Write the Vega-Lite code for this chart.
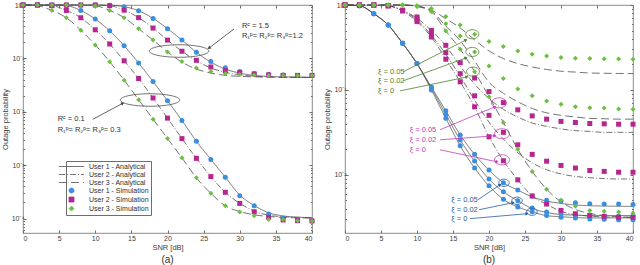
{
"$schema": "https://vega.github.io/schema/vega-lite/v6.json",
"background": "white",
"padding": {"left": 0, "top": 0, "right": 0, "bottom": 0},
"spacing": 8,
"config": {
  "font": "Liberation Sans",
  "view": {"stroke": "#6e6e6e", "strokeWidth": 0.8},
  "axis": {"grid": false, "domain": false, "labelFontSize": 7, "labelColor": "#404040", "titleFontSize": 7.5, "titleColor": "#404040", "titleFontWeight": "normal", "tickColor": "#6e6e6e", "labelFont": "Liberation Sans", "titleFont": "Liberation Sans"},
  "title": {"font": "Liberation Sans", "fontWeight": "normal", "fontSize": 10, "color": "#303030"}
},
"datasets": {
  "labs": [
    {"u": "1", "la": "User 1 - Analytical", "ls": "User 1 - Simulation"},
    {"u": "2", "la": "User 2 - Analytical", "ls": "User 2 - Simulation"},
    {"u": "3", "la": "User 3 - Analytical", "ls": "User 3 - Simulation"}
  ],
  "A": [
    {"g":"lo","u":"1","x":0,"s":1,"a":1},
    {"g":"lo","u":"1","x":2,"s":1,"a":1},
    {"g":"lo","u":"1","x":4,"s":1,"a":1},
    {"g":"lo","u":"1","x":6,"s":0.97,"a":0.97},
    {"g":"lo","u":"1","x":8,"s":0.79,"a":0.79},
    {"g":"lo","u":"1","x":10,"s":0.544,"a":0.544},
    {"g":"lo","u":"1","x":12,"s":0.328,"a":0.328},
    {"g":"lo","u":"1","x":14,"s":0.173,"a":0.173},
    {"g":"lo","u":"1","x":16,"s":0.0817,"a":0.0817},
    {"g":"lo","u":"1","x":18,"s":0.0368,"a":0.0368},
    {"g":"lo","u":"1","x":20,"s":0.0161,"a":0.0161},
    {"g":"lo","u":"1","x":22,"s":0.00686,"a":0.00686},
    {"g":"lo","u":"1","x":24,"s":0.0028,"a":0.0028},
    {"g":"lo","u":"1","x":26,"s":0.00128,"a":0.00128},
    {"g":"lo","u":"1","x":28,"s":0.000594,"a":0.000594},
    {"g":"lo","u":"1","x":30,"s":0.000268,"a":0.000275},
    {"g":"lo","u":"1","x":32,"s":0.000173,"a":0.000175},
    {"g":"lo","u":"1","x":34,"s":0.000121,"a":0.000128},
    {"g":"lo","u":"1","x":36,"s":0.000101,"a":0.000112},
    {"g":"lo","u":"1","x":38,"s":0.0000944,"a":0.000106},
    {"g":"lo","u":"1","x":40,"s":0.0000903,"a":0.000104},
    {"g":"lo","u":"2","x":0,"s":1,"a":1},
    {"g":"lo","u":"2","x":2,"s":1,"a":1},
    {"g":"lo","u":"2","x":4,"s":0.97,"a":0.97},
    {"g":"lo","u":"2","x":6,"s":0.79,"a":0.79},
    {"g":"lo","u":"2","x":8,"s":0.577,"a":0.577},
    {"g":"lo","u":"2","x":10,"s":0.343,"a":0.343},
    {"g":"lo","u":"2","x":12,"s":0.186,"a":0.186},
    {"g":"lo","u":"2","x":14,"s":0.09,"a":0.09},
    {"g":"lo","u":"2","x":16,"s":0.042,"a":0.042},
    {"g":"lo","u":"2","x":18,"s":0.0181,"a":0.0181},
    {"g":"lo","u":"2","x":20,"s":0.0076,"a":0.0076},
    {"g":"lo","u":"2","x":22,"s":0.00314,"a":0.00314},
    {"g":"lo","u":"2","x":24,"s":0.00134,"a":0.00134},
    {"g":"lo","u":"2","x":26,"s":0.00061,"a":0.00061},
    {"g":"lo","u":"2","x":28,"s":0.00031,"a":0.00031},
    {"g":"lo","u":"2","x":30,"s":0.000192,"a":0.000192},
    {"g":"lo","u":"2","x":32,"s":0.000134,"a":0.000138},
    {"g":"lo","u":"2","x":34,"s":0.000105,"a":0.000115},
    {"g":"lo","u":"2","x":36,"s":0.000094,"a":0.000108},
    {"g":"lo","u":"2","x":38,"s":0.000091,"a":0.000105},
    {"g":"lo","u":"2","x":40,"s":0.00009,"a":0.000103},
    {"g":"lo","u":"3","x":0,"s":1,"a":1},
    {"g":"lo","u":"3","x":2,"s":0.97,"a":0.97},
    {"g":"lo","u":"3","x":4,"s":0.79,"a":0.79},
    {"g":"lo","u":"3","x":6,"s":0.577,"a":0.577},
    {"g":"lo","u":"3","x":8,"s":0.337,"a":0.337},
    {"g":"lo","u":"3","x":10,"s":0.179,"a":0.179},
    {"g":"lo","u":"3","x":12,"s":0.0865,"a":0.0865},
    {"g":"lo","u":"3","x":14,"s":0.039,"a":0.039},
    {"g":"lo","u":"3","x":16,"s":0.0168,"a":0.0168},
    {"g":"lo","u":"3","x":18,"s":0.00727,"a":0.00727},
    {"g":"lo","u":"3","x":20,"s":0.00314,"a":0.00314},
    {"g":"lo","u":"3","x":22,"s":0.00137,"a":0.00137},
    {"g":"lo","u":"3","x":24,"s":0.000577,"a":0.000577},
    {"g":"lo","u":"3","x":26,"s":0.000296,"a":0.000296},
    {"g":"lo","u":"3","x":28,"s":0.000173,"a":0.000173},
    {"g":"lo","u":"3","x":30,"s":0.000132,"a":0.000135},
    {"g":"lo","u":"3","x":32,"s":0.000112,"a":0.000117},
    {"g":"lo","u":"3","x":34,"s":0.000096,"a":0.000109},
    {"g":"lo","u":"3","x":36,"s":0.000096,"a":0.000105},
    {"g":"lo","u":"3","x":38,"s":0.000091,"a":0.000103},
    {"g":"lo","u":"3","x":40,"s":0.00009,"a":0.000102},
    {"g":"hi","u":"1","x":0,"s":1,"a":1},
    {"g":"hi","u":"1","x":2,"s":1,"a":1},
    {"g":"hi","u":"1","x":4,"s":1,"a":1},
    {"g":"hi","u":"1","x":6,"s":1,"a":1},
    {"g":"hi","u":"1","x":8,"s":1,"a":1},
    {"g":"hi","u":"1","x":10,"s":1,"a":1},
    {"g":"hi","u":"1","x":12,"s":0.99,"a":0.99},
    {"g":"hi","u":"1","x":14,"s":0.93,"a":0.93},
    {"g":"hi","u":"1","x":16,"s":0.78,"a":0.78},
    {"g":"hi","u":"1","x":18,"s":0.56,"a":0.56},
    {"g":"hi","u":"1","x":20,"s":0.36,"a":0.36},
    {"g":"hi","u":"1","x":22,"s":0.22,"a":0.22},
    {"g":"hi","u":"1","x":24,"s":0.13,"a":0.13},
    {"g":"hi","u":"1","x":26,"s":0.087,"a":0.085},
    {"g":"hi","u":"1","x":28,"s":0.067,"a":0.063},
    {"g":"hi","u":"1","x":30,"s":0.057,"a":0.053},
    {"g":"hi","u":"1","x":32,"s":0.052,"a":0.048},
    {"g":"hi","u":"1","x":34,"s":0.05,"a":0.046},
    {"g":"hi","u":"1","x":36,"s":0.049,"a":0.045},
    {"g":"hi","u":"1","x":38,"s":0.048,"a":0.0445},
    {"g":"hi","u":"1","x":40,"s":0.048,"a":0.044},
    {"g":"hi","u":"2","x":0,"s":1,"a":1},
    {"g":"hi","u":"2","x":2,"s":1,"a":1},
    {"g":"hi","u":"2","x":4,"s":1,"a":1},
    {"g":"hi","u":"2","x":6,"s":1,"a":1},
    {"g":"hi","u":"2","x":8,"s":1,"a":1},
    {"g":"hi","u":"2","x":10,"s":1,"a":1},
    {"g":"hi","u":"2","x":12,"s":0.97,"a":0.97},
    {"g":"hi","u":"2","x":14,"s":0.8,"a":0.8},
    {"g":"hi","u":"2","x":16,"s":0.58,"a":0.58},
    {"g":"hi","u":"2","x":18,"s":0.37,"a":0.37},
    {"g":"hi","u":"2","x":20,"s":0.22,"a":0.22},
    {"g":"hi","u":"2","x":22,"s":0.136,"a":0.136},
    {"g":"hi","u":"2","x":24,"s":0.092,"a":0.09},
    {"g":"hi","u":"2","x":26,"s":0.069,"a":0.066},
    {"g":"hi","u":"2","x":28,"s":0.059,"a":0.055},
    {"g":"hi","u":"2","x":30,"s":0.054,"a":0.049},
    {"g":"hi","u":"2","x":32,"s":0.051,"a":0.0465},
    {"g":"hi","u":"2","x":34,"s":0.049,"a":0.0452},
    {"g":"hi","u":"2","x":36,"s":0.048,"a":0.0446},
    {"g":"hi","u":"2","x":38,"s":0.048,"a":0.0442},
    {"g":"hi","u":"2","x":40,"s":0.048,"a":0.044},
    {"g":"hi","u":"3","x":0,"s":1,"a":1},
    {"g":"hi","u":"3","x":2,"s":1,"a":1},
    {"g":"hi","u":"3","x":4,"s":1,"a":1},
    {"g":"hi","u":"3","x":6,"s":1,"a":1},
    {"g":"hi","u":"3","x":8,"s":1,"a":1},
    {"g":"hi","u":"3","x":10,"s":0.97,"a":0.97},
    {"g":"hi","u":"3","x":12,"s":0.79,"a":0.79},
    {"g":"hi","u":"3","x":14,"s":0.58,"a":0.58},
    {"g":"hi","u":"3","x":16,"s":0.36,"a":0.36},
    {"g":"hi","u":"3","x":18,"s":0.22,"a":0.22},
    {"g":"hi","u":"3","x":20,"s":0.132,"a":0.132},
    {"g":"hi","u":"3","x":22,"s":0.087,"a":0.085},
    {"g":"hi","u":"3","x":24,"s":0.066,"a":0.063},
    {"g":"hi","u":"3","x":26,"s":0.057,"a":0.053},
    {"g":"hi","u":"3","x":28,"s":0.052,"a":0.048},
    {"g":"hi","u":"3","x":30,"s":0.05,"a":0.046},
    {"g":"hi","u":"3","x":32,"s":0.049,"a":0.045},
    {"g":"hi","u":"3","x":34,"s":0.048,"a":0.0445},
    {"g":"hi","u":"3","x":36,"s":0.048,"a":0.044},
    {"g":"hi","u":"3","x":38,"s":0.048,"a":0.044},
    {"g":"hi","u":"3","x":40,"s":0.048,"a":0.044}
  ],
  "B": [
    {"g":"0.05","u":"1","x":0,"s":1,"a":1},
    {"g":"0.05","u":"1","x":2,"s":0.98,"a":0.98},
    {"g":"0.05","u":"1","x":4,"s":0.79,"a":0.79},
    {"g":"0.05","u":"1","x":6,"s":0.58,"a":0.58},
    {"g":"0.05","u":"1","x":8,"s":0.354,"a":0.354},
    {"g":"0.05","u":"1","x":10,"s":0.204,"a":0.204},
    {"g":"0.05","u":"1","x":12,"s":0.108,"a":0.108},
    {"g":"0.05","u":"1","x":14,"s":0.0566,"a":0.0566},
    {"g":"0.05","u":"1","x":16,"s":0.0295,"a":0.0295},
    {"g":"0.05","u":"1","x":18,"s":0.0174,"a":0.0174},
    {"g":"0.05","u":"1","x":20,"s":0.01135,"a":0.01135},
    {"g":"0.05","u":"1","x":22,"s":0.00805,"a":0.00805},
    {"g":"0.05","u":"1","x":24,"s":0.0066,"a":0.0066},
    {"g":"0.05","u":"1","x":26,"s":0.00562,"a":0.0055},
    {"g":"0.05","u":"1","x":28,"s":0.00501,"a":0.0049},
    {"g":"0.05","u":"1","x":30,"s":0.0049,"a":0.0046},
    {"g":"0.05","u":"1","x":32,"s":0.00468,"a":0.0044},
    {"g":"0.05","u":"1","x":34,"s":0.00457,"a":0.00432},
    {"g":"0.05","u":"1","x":36,"s":0.00452,"a":0.00428},
    {"g":"0.05","u":"1","x":38,"s":0.00452,"a":0.00425},
    {"g":"0.05","u":"1","x":40,"s":0.00447,"a":0.00424},
    {"g":"0.02","u":"1","x":0,"s":1,"a":1},
    {"g":"0.02","u":"1","x":2,"s":0.98,"a":0.98},
    {"g":"0.02","u":"1","x":4,"s":0.79,"a":0.79},
    {"g":"0.02","u":"1","x":6,"s":0.58,"a":0.58},
    {"g":"0.02","u":"1","x":8,"s":0.354,"a":0.354},
    {"g":"0.02","u":"1","x":10,"s":0.204,"a":0.204},
    {"g":"0.02","u":"1","x":12,"s":0.104,"a":0.104},
    {"g":"0.02","u":"1","x":14,"s":0.0517,"a":0.0517},
    {"g":"0.02","u":"1","x":16,"s":0.0257,"a":0.0257},
    {"g":"0.02","u":"1","x":18,"s":0.0145,"a":0.0145},
    {"g":"0.02","u":"1","x":20,"s":0.0089,"a":0.0089},
    {"g":"0.02","u":"1","x":22,"s":0.0063,"a":0.0063},
    {"g":"0.02","u":"1","x":24,"s":0.00494,"a":0.00494},
    {"g":"0.02","u":"1","x":26,"s":0.00407,"a":0.004},
    {"g":"0.02","u":"1","x":28,"s":0.00363,"a":0.0036},
    {"g":"0.02","u":"1","x":30,"s":0.00347,"a":0.0034},
    {"g":"0.02","u":"1","x":32,"s":0.00335,"a":0.00335},
    {"g":"0.02","u":"1","x":34,"s":0.00331,"a":0.0033},
    {"g":"0.02","u":"1","x":36,"s":0.00324,"a":0.0033},
    {"g":"0.02","u":"1","x":38,"s":0.00324,"a":0.0033},
    {"g":"0.02","u":"1","x":40,"s":0.00324,"a":0.0033},
    {"g":"0","u":"1","x":0,"s":1,"a":1},
    {"g":"0","u":"1","x":2,"s":0.98,"a":0.98},
    {"g":"0","u":"1","x":4,"s":0.79,"a":0.79},
    {"g":"0","u":"1","x":6,"s":0.58,"a":0.58},
    {"g":"0","u":"1","x":8,"s":0.354,"a":0.354},
    {"g":"0","u":"1","x":10,"s":0.204,"a":0.204},
    {"g":"0","u":"1","x":12,"s":0.1,"a":0.1},
    {"g":"0","u":"1","x":14,"s":0.0464,"a":0.0464},
    {"g":"0","u":"1","x":16,"s":0.0219,"a":0.0219},
    {"g":"0","u":"1","x":18,"s":0.012,"a":0.012},
    {"g":"0","u":"1","x":20,"s":0.0074,"a":0.0074},
    {"g":"0","u":"1","x":22,"s":0.00513,"a":0.00513},
    {"g":"0","u":"1","x":24,"s":0.00417,"a":0.00417},
    {"g":"0","u":"1","x":26,"s":0.00367,"a":0.00365},
    {"g":"0","u":"1","x":28,"s":0.00331,"a":0.0033},
    {"g":"0","u":"1","x":30,"s":0.00316,"a":0.0032},
    {"g":"0","u":"1","x":32,"s":0.00309,"a":0.00313},
    {"g":"0","u":"1","x":34,"s":0.00302,"a":0.0031},
    {"g":"0","u":"1","x":36,"s":0.00299,"a":0.0031},
    {"g":"0","u":"1","x":38,"s":0.00295,"a":0.0031},
    {"g":"0","u":"1","x":40,"s":0.00295,"a":0.0031},
    {"g":"0.05","u":"2","x":0,"s":1,"a":1},
    {"g":"0.05","u":"2","x":2,"s":1,"a":1},
    {"g":"0.05","u":"2","x":4,"s":1,"a":1},
    {"g":"0.05","u":"2","x":6,"s":0.98,"a":0.98},
    {"g":"0.05","u":"2","x":8,"s":0.87,"a":0.86},
    {"g":"0.05","u":"2","x":10,"s":0.723,"a":0.7},
    {"g":"0.05","u":"2","x":12,"s":0.503,"a":0.5},
    {"g":"0.05","u":"2","x":14,"s":0.335,"a":0.33},
    {"g":"0.05","u":"2","x":16,"s":0.209,"a":0.19},
    {"g":"0.05","u":"2","x":18,"s":0.138,"a":0.117},
    {"g":"0.05","u":"2","x":20,"s":0.0955,"a":0.079},
    {"g":"0.05","u":"2","x":22,"s":0.0708,"a":0.0589},
    {"g":"0.05","u":"2","x":24,"s":0.0582,"a":0.0479},
    {"g":"0.05","u":"2","x":26,"s":0.0494,"a":0.0407},
    {"g":"0.05","u":"2","x":28,"s":0.0452,"a":0.0372},
    {"g":"0.05","u":"2","x":30,"s":0.0425,"a":0.0347},
    {"g":"0.05","u":"2","x":32,"s":0.0413,"a":0.0331},
    {"g":"0.05","u":"2","x":34,"s":0.0402,"a":0.0324},
    {"g":"0.05","u":"2","x":36,"s":0.0398,"a":0.0316},
    {"g":"0.05","u":"2","x":38,"s":0.0394,"a":0.0316},
    {"g":"0.05","u":"2","x":40,"s":0.0394,"a":0.0316},
    {"g":"0.02","u":"2","x":0,"s":1,"a":1},
    {"g":"0.02","u":"2","x":2,"s":1,"a":1},
    {"g":"0.02","u":"2","x":4,"s":1,"a":1},
    {"g":"0.02","u":"2","x":6,"s":0.98,"a":0.98},
    {"g":"0.02","u":"2","x":8,"s":0.86,"a":0.86},
    {"g":"0.02","u":"2","x":10,"s":0.678,"a":0.67},
    {"g":"0.02","u":"2","x":12,"s":0.452,"a":0.44},
    {"g":"0.02","u":"2","x":14,"s":0.275,"a":0.263},
    {"g":"0.02","u":"2","x":16,"s":0.155,"a":0.1445},
    {"g":"0.02","u":"2","x":18,"s":0.0851,"a":0.0759},
    {"g":"0.02","u":"2","x":20,"s":0.0501,"a":0.0417},
    {"g":"0.02","u":"2","x":22,"s":0.0316,"a":0.0263},
    {"g":"0.02","u":"2","x":24,"s":0.02254,"a":0.0182},
    {"g":"0.02","u":"2","x":26,"s":0.01738,"a":0.0138},
    {"g":"0.02","u":"2","x":28,"s":0.01445,"a":0.01148},
    {"g":"0.02","u":"2","x":30,"s":0.01288,"a":0.01023},
    {"g":"0.02","u":"2","x":32,"s":0.012,"a":0.00955},
    {"g":"0.02","u":"2","x":34,"s":0.01122,"a":0.00923},
    {"g":"0.02","u":"2","x":36,"s":0.01096,"a":0.00902},
    {"g":"0.02","u":"2","x":38,"s":0.01072,"a":0.00891},
    {"g":"0.02","u":"2","x":40,"s":0.01072,"a":0.00891},
    {"g":"0","u":"2","x":0,"s":1,"a":1},
    {"g":"0","u":"2","x":2,"s":1,"a":1},
    {"g":"0","u":"2","x":4,"s":1,"a":1},
    {"g":"0","u":"2","x":6,"s":0.98,"a":0.98},
    {"g":"0","u":"2","x":8,"s":0.85,"a":0.85},
    {"g":"0","u":"2","x":10,"s":0.637,"a":0.637},
    {"g":"0","u":"2","x":12,"s":0.42,"a":0.42},
    {"g":"0","u":"2","x":14,"s":0.23,"a":0.23},
    {"g":"0","u":"2","x":16,"s":0.1245,"a":0.1245},
    {"g":"0","u":"2","x":18,"s":0.0631,"a":0.0631},
    {"g":"0","u":"2","x":20,"s":0.028,"a":0.028},
    {"g":"0","u":"2","x":22,"s":0.01462,"a":0.01462},
    {"g":"0","u":"2","x":24,"s":0.00871,"a":0.00871},
    {"g":"0","u":"2","x":26,"s":0.00562,"a":0.00562},
    {"g":"0","u":"2","x":28,"s":0.00452,"a":0.0045},
    {"g":"0","u":"2","x":30,"s":0.0038,"a":0.0037},
    {"g":"0","u":"2","x":32,"s":0.00347,"a":0.0034},
    {"g":"0","u":"2","x":34,"s":0.00331,"a":0.00325},
    {"g":"0","u":"2","x":36,"s":0.00324,"a":0.00318},
    {"g":"0","u":"2","x":38,"s":0.00316,"a":0.00315},
    {"g":"0","u":"2","x":40,"s":0.00316,"a":0.00313},
    {"g":"0.05","u":"3","x":0,"s":1,"a":1},
    {"g":"0.05","u":"3","x":2,"s":1,"a":1},
    {"g":"0.05","u":"3","x":4,"s":1,"a":1},
    {"g":"0.05","u":"3","x":6,"s":1,"a":1},
    {"g":"0.05","u":"3","x":8,"s":1,"a":1},
    {"g":"0.05","u":"3","x":10,"s":0.98,"a":0.97},
    {"g":"0.05","u":"3","x":12,"s":0.91,"a":0.87},
    {"g":"0.05","u":"3","x":14,"s":0.73,"a":0.69},
    {"g":"0.05","u":"3","x":16,"s":0.582,"a":0.537},
    {"g":"0.05","u":"3","x":18,"s":0.452,"a":0.389},
    {"g":"0.05","u":"3","x":20,"s":0.371,"a":0.288},
    {"g":"0.05","u":"3","x":22,"s":0.3236,"a":0.234},
    {"g":"0.05","u":"3","x":24,"s":0.288,"a":0.204},
    {"g":"0.05","u":"3","x":26,"s":0.263,"a":0.186},
    {"g":"0.05","u":"3","x":28,"s":0.251,"a":0.174},
    {"g":"0.05","u":"3","x":30,"s":0.24,"a":0.166},
    {"g":"0.05","u":"3","x":32,"s":0.236,"a":0.162},
    {"g":"0.05","u":"3","x":34,"s":0.234,"a":0.158},
    {"g":"0.05","u":"3","x":36,"s":0.232,"a":0.157},
    {"g":"0.05","u":"3","x":38,"s":0.231,"a":0.156},
    {"g":"0.05","u":"3","x":40,"s":0.2296,"a":0.1556},
    {"g":"0.02","u":"3","x":0,"s":1,"a":1},
    {"g":"0.02","u":"3","x":2,"s":1,"a":1},
    {"g":"0.02","u":"3","x":4,"s":1,"a":1},
    {"g":"0.02","u":"3","x":6,"s":1,"a":1},
    {"g":"0.02","u":"3","x":8,"s":1,"a":1},
    {"g":"0.02","u":"3","x":10,"s":0.97,"a":0.97},
    {"g":"0.02","u":"3","x":12,"s":0.87,"a":0.85},
    {"g":"0.02","u":"3","x":14,"s":0.603,"a":0.562},
    {"g":"0.02","u":"3","x":16,"s":0.431,"a":0.38},
    {"g":"0.02","u":"3","x":18,"s":0.28,"a":0.219},
    {"g":"0.02","u":"3","x":20,"s":0.1905,"a":0.123},
    {"g":"0.02","u":"3","x":22,"s":0.1358,"a":0.0912},
    {"g":"0.02","u":"3","x":24,"s":0.1023,"a":0.0724},
    {"g":"0.02","u":"3","x":26,"s":0.0851,"a":0.0603},
    {"g":"0.02","u":"3","x":28,"s":0.0741,"a":0.0537},
    {"g":"0.02","u":"3","x":30,"s":0.0676,"a":0.0501},
    {"g":"0.02","u":"3","x":32,"s":0.0631,"a":0.0479},
    {"g":"0.02","u":"3","x":34,"s":0.0617,"a":0.0462},
    {"g":"0.02","u":"3","x":36,"s":0.061,"a":0.0457},
    {"g":"0.02","u":"3","x":38,"s":0.0596,"a":0.0452},
    {"g":"0.02","u":"3","x":40,"s":0.0593,"a":0.0452},
    {"g":"0","u":"3","x":0,"s":1,"a":1},
    {"g":"0","u":"3","x":2,"s":1,"a":1},
    {"g":"0","u":"3","x":4,"s":1,"a":1},
    {"g":"0","u":"3","x":6,"s":1,"a":1},
    {"g":"0","u":"3","x":8,"s":1,"a":1},
    {"g":"0","u":"3","x":10,"s":0.96,"a":0.96},
    {"g":"0","u":"3","x":12,"s":0.83,"a":0.83},
    {"g":"0","u":"3","x":14,"s":0.494,"a":0.494},
    {"g":"0","u":"3","x":16,"s":0.302,"a":0.302},
    {"g":"0","u":"3","x":18,"s":0.164,"a":0.164},
    {"g":"0","u":"3","x":20,"s":0.0832,"a":0.0832},
    {"g":"0","u":"3","x":22,"s":0.0413,"a":0.0413},
    {"g":"0","u":"3","x":24,"s":0.01995,"a":0.01995},
    {"g":"0","u":"3","x":26,"s":0.01096,"a":0.01096},
    {"g":"0","u":"3","x":28,"s":0.00676,"a":0.00676},
    {"g":"0","u":"3","x":30,"s":0.00501,"a":0.0048},
    {"g":"0","u":"3","x":32,"s":0.00427,"a":0.0039},
    {"g":"0","u":"3","x":34,"s":0.0038,"a":0.0035},
    {"g":"0","u":"3","x":36,"s":0.00372,"a":0.0033},
    {"g":"0","u":"3","x":38,"s":0.00363,"a":0.0032},
    {"g":"0","u":"3","x":40,"s":0.00355,"a":0.00316}
  ],
  "annAe": [{"x": 21.6, "y": 0.1374}, {"x": 17.58, "y": 0.0166}],
  "annAr": [
    {"x": 29.2, "y": 0.355, "x2": 25.74, "y2": 0.156, "ang": 233},
    {"x": 9.65, "y": 0.00722, "x2": 13.8, "y2": 0.01439, "ang": 62}
  ],
  "annAt": [
    {"x": 30.3, "y": 0.404, "t": "Rᶜ = 1.5"},
    {"x": 30.3, "y": 0.2625, "t": "R₁ᵖ= R₂ᵖ= R₃ᵖ=1.2"},
    {"x": 4.8, "y": 0.00722, "t": "Rᶜ = 0.1"},
    {"x": 4.8, "y": 0.00449, "t": "R₁ᵖ= R₂ᵖ= R₃ᵖ= 0.3"}
  ],
  "annBe": [
    {"k": "3", "x": 17.68, "y": 0.452}, {"k": "3", "x": 17.68, "y": 0.28}, {"k": "3", "x": 17.78, "y": 0.164},
    {"k": "2", "x": 21.39, "y": 0.0703}, {"k": "2", "x": 21.81, "y": 0.0304}, {"k": "2", "x": 21.81, "y": 0.015},
    {"k": "1", "x": 22.08, "y": 0.00805}, {"k": "1", "x": 23.89, "y": 0.00494}, {"k": "1", "x": 25.97, "y": 0.00367}
  ],
  "annBr": [
    {"k": "3", "x": 8.06, "y": 0.163, "x2": 16.8, "y2": 0.387, "ang": 63},
    {"k": "3", "x": 8.06, "y": 0.1276, "x2": 16.8, "y2": 0.238, "ang": 70},
    {"k": "3", "x": 7.64, "y": 0.0973, "x2": 16.94, "y2": 0.142, "ang": 78},
    {"k": "2", "x": 13.19, "y": 0.0339, "x2": 20.83, "y2": 0.0631, "ang": 67},
    {"k": "2", "x": 13.19, "y": 0.0258, "x2": 20.83, "y2": 0.0288, "ang": 86},
    {"k": "2", "x": 13.19, "y": 0.01968, "x2": 21.11, "y2": 0.01422, "ang": 102},
    {"k": "1", "x": 18.47, "y": 0.00508, "x2": 21.53, "y2": 0.00762, "ang": 56},
    {"k": "1", "x": 18.61, "y": 0.00387, "x2": 23.33, "y2": 0.00469, "ang": 78},
    {"k": "1", "x": 17.36, "y": 0.00304, "x2": 25.28, "y2": 0.003476, "ang": 85}
  ],
  "annBt": [
    {"k": "3", "x": 4.58, "y": 0.163, "t": "ξ = 0.05"},
    {"k": "3", "x": 4.58, "y": 0.1276, "t": "ξ = 0.02"},
    {"k": "3", "x": 4.58, "y": 0.0973, "t": "ξ = 0"},
    {"k": "2", "x": 8.99, "y": 0.0339, "t": "ξ = 0.05"},
    {"k": "2", "x": 8.99, "y": 0.0258, "t": "ξ = 0.02"},
    {"k": "2", "x": 8.99, "y": 0.01968, "t": "ξ = 0"},
    {"k": "1", "x": 14.76, "y": 0.00508, "t": "ξ = 0.05"},
    {"k": "1", "x": 14.76, "y": 0.00387, "t": "ξ = 0.02"},
    {"k": "1", "x": 14.76, "y": 0.00304, "t": "ξ = 0"}
  ]
},
"hconcat": [
  {
    "width": 289, "height": 228,
    "title": {"text": "(a)", "orient": "bottom", "offset": 4},
    "resolve": {"axis": {"x": "independent", "y": "independent"}},
    "layer": [
      {
        "data": {"name": "A"},
        "transform": [{"lookup": "u", "from": {"data": {"name": "labs"}, "key": "u", "fields": ["la", "ls"]}}],
        "mark": {"type": "line", "strokeWidth": 0.8, "interpolate": "monotone"},
        "encoding": {
          "x": {"field": "x", "type": "quantitative", "scale": {"domain": [0, 40], "nice": false},
                "axis": {"title": "SNR [dB]", "values": [0,5,10,15,20,25,30,35,40], "tickSize": -3, "labelPadding": 4, "titlePadding": 2}},
          "y": {"field": "a", "type": "quantitative", "scale": {"type": "log", "domain": [0.0000535, 1], "nice": false},
                "axis": {"title": "Outage probability", "values": [0.00006,0.00007,0.00008,0.00009,0.0001,0.0002,0.0003,0.0004,0.0005,0.0006,0.0007,0.0008,0.0009,0.001,0.002,0.003,0.004,0.005,0.006,0.007,0.008,0.009,0.01,0.02,0.03,0.04,0.05,0.06,0.07,0.08,0.09,0.1,0.2,0.3,0.4,0.5,0.6,0.7,0.8,0.9,1],
                  "labelExpr": "abs(datum.value-1)<1e-9 ? '10⁰' : abs(datum.value-0.1)<1e-9 ? '10⁻¹' : abs(datum.value-0.01)<1e-10 ? '10⁻²' : abs(datum.value-0.001)<1e-11 ? '10⁻³' : abs(datum.value-0.0001)<1e-12 ? '10⁻⁴' : ''",
                  "labelOverlap": false, "labelBound": false,
                  "tickSize": {"condition": {"test": "abs(log(datum.value)/LN10 - round(log(datum.value)/LN10)) < 0.001", "value": -3}, "value": -1.5},
                  "labelPadding": 2, "titlePadding": 2}},
          "detail": {"field": "g"},
          "color": {"field": "la", "type": "nominal",
            "scale": {"domain": ["User 1 - Analytical","User 2 - Analytical","User 3 - Analytical","User 1 - Simulation","User 2 - Simulation","User 3 - Simulation"], "range": ["#505050","#505050","#505050","#3b8ede","#b5268e","#6cc03d"]},
            "legend": {"title": null, "orient": "none", "legendX": 43, "legendY": 156, "labelFontSize": 7, "labelColor": "#303030", "strokeColor": "#6e6e6e", "fillColor": "white", "padding": 2, "rowPadding": 0, "labelOffset": 14, "symbolStrokeWidth": 0.8}},
          "strokeDash": {"field": "la", "type": "nominal",
            "scale": {"domain": ["User 1 - Analytical","User 2 - Analytical","User 3 - Analytical","User 1 - Simulation","User 2 - Simulation","User 3 - Simulation"], "range": [[1,0],[6,2,1,2],[8,4],[1,0],[1,0],[1,0]]},
            "legend": {"title": null, "orient": "none", "legendX": 43, "legendY": 156, "labelFontSize": 7, "labelColor": "#303030", "strokeColor": "#6e6e6e", "fillColor": "white", "padding": 2, "rowPadding": 0, "labelOffset": 14, "symbolStrokeWidth": 0.8}}
        }
      },
      {
        "data": {"name": "A"},
        "transform": [{"lookup": "u", "from": {"data": {"name": "labs"}, "key": "u", "fields": ["la", "ls"]}}],
        "mark": {"type": "point", "filled": true, "opacity": 1, "strokeWidth": 0},
        "encoding": {
          "x": {"field": "x", "type": "quantitative", "axis": {"orient": "top", "labels": false, "title": null, "values": [0,5,10,15,20,25,30,35,40], "tickSize": -3}},
          "y": {"field": "s", "type": "quantitative", "axis": {"orient": "right", "labels": false, "title": null,
                  "values": [0.00006,0.00007,0.00008,0.00009,0.0001,0.0002,0.0003,0.0004,0.0005,0.0006,0.0007,0.0008,0.0009,0.001,0.002,0.003,0.004,0.005,0.006,0.007,0.008,0.009,0.01,0.02,0.03,0.04,0.05,0.06,0.07,0.08,0.09,0.1,0.2,0.3,0.4,0.5,0.6,0.7,0.8,0.9,1],
                  "tickSize": {"condition": {"test": "abs(log(datum.value)/LN10 - round(log(datum.value)/LN10)) < 0.001", "value": -3}, "value": -1.5}}},
          "color": {"field": "ls", "type": "nominal",
            "scale": {"domain": ["User 1 - Analytical","User 2 - Analytical","User 3 - Analytical","User 1 - Simulation","User 2 - Simulation","User 3 - Simulation"], "range": ["#505050","#505050","#505050","#3b8ede","#b5268e","#6cc03d"]},
            "legend": {"title": null, "orient": "none", "legendX": 43, "legendY": 156, "labelFontSize": 7, "labelColor": "#303030", "strokeColor": "#6e6e6e", "fillColor": "white", "padding": 2, "rowPadding": 0, "labelOffset": 14, "symbolStrokeWidth": 0.8}},
          "shape": {"field": "ls", "type": "nominal",
            "scale": {"domain": ["User 1 - Analytical","User 2 - Analytical","User 3 - Analytical","User 1 - Simulation","User 2 - Simulation","User 3 - Simulation"], "range": ["M-5,0H5","M-5,0H5","M-5,0H5","circle","square","diamond"]},
            "legend": {"title": null, "orient": "none", "legendX": 43, "legendY": 156, "labelFontSize": 7, "labelColor": "#303030", "strokeColor": "#6e6e6e", "fillColor": "white", "padding": 2, "rowPadding": 0, "labelOffset": 14, "symbolStrokeWidth": 0.8}},
          "size": {"field": "ls", "type": "nominal",
            "scale": {"domain": ["User 1 - Analytical","User 2 - Analytical","User 3 - Analytical","User 1 - Simulation","User 2 - Simulation","User 3 - Simulation"], "range": [25,25,25,20,8,20]},
            "legend": {"title": null, "orient": "none", "legendX": 43, "legendY": 156, "labelFontSize": 7, "labelColor": "#303030", "strokeColor": "#6e6e6e", "fillColor": "white", "padding": 2, "rowPadding": 0, "labelOffset": 14, "symbolStrokeWidth": 0.8}}
        }
      },
      {
        "data": {"name": "annAe"},
        "mark": {"type": "point", "shape": "M-1,0A1,0.21,0,1,1,1,0A1,0.21,0,1,1,-1,0Z", "size": 3540, "filled": false, "stroke": "#505050", "strokeWidth": 0.8, "opacity": 1},
        "encoding": {"x": {"field": "x", "type": "quantitative", "axis": null}, "y": {"field": "y", "type": "quantitative", "axis": null}}
      },
      {
        "data": {"name": "annAr"},
        "mark": {"type": "rule", "stroke": "#404040", "strokeWidth": 0.8},
        "encoding": {"x": {"field": "x", "type": "quantitative", "axis": null}, "y": {"field": "y", "type": "quantitative", "axis": null}, "x2": {"field": "x2"}, "y2": {"field": "y2"}}
      },
      {
        "data": {"name": "annAr"},
        "mark": {"type": "point", "shape": "triangle-up", "size": 14, "filled": true, "color": "#404040", "opacity": 1},
        "encoding": {"x": {"field": "x2", "type": "quantitative", "axis": null}, "y": {"field": "y2", "type": "quantitative", "axis": null}, "angle": {"field": "ang", "type": "quantitative", "scale": null}}
      },
      {
        "data": {"name": "annAt"},
        "mark": {"type": "text", "align": "left", "baseline": "middle", "fontSize": 7.5, "color": "#303030"},
        "encoding": {"x": {"field": "x", "type": "quantitative", "axis": null}, "y": {"field": "y", "type": "quantitative", "axis": null}, "text": {"field": "t"}}
      }
    ]
  },
  {
    "width": 288, "height": 228,
    "title": {"text": "(b)", "orient": "bottom", "offset": 4},
    "resolve": {"axis": {"x": "independent", "y": "independent"}},
    "layer": [
      {
        "data": {"name": "B"},
        "transform": [{"lookup": "u", "from": {"data": {"name": "labs"}, "key": "u", "fields": ["la", "ls"]}}],
        "mark": {"type": "line", "strokeWidth": 0.8, "interpolate": "monotone"},
        "encoding": {
          "x": {"field": "x", "type": "quantitative", "scale": {"domain": [0, 40], "nice": false},
                "axis": {"title": "SNR [dB]", "values": [0,5,10,15,20,25,30,35,40], "tickSize": -3, "labelPadding": 4, "titlePadding": 2}},
          "y": {"field": "a", "type": "quantitative", "scale": {"type": "log", "domain": [0.00206, 1], "nice": false},
                "axis": {"title": "Outage probability", "values": [0.003,0.004,0.005,0.006,0.007,0.008,0.009,0.01,0.02,0.03,0.04,0.05,0.06,0.07,0.08,0.09,0.1,0.2,0.3,0.4,0.5,0.6,0.7,0.8,0.9,1],
                  "labelExpr": "abs(datum.value-1)<1e-9 ? '10⁰' : abs(datum.value-0.1)<1e-9 ? '10⁻¹' : abs(datum.value-0.01)<1e-10 ? '10⁻²' : ''",
                  "labelOverlap": false, "labelBound": false,
                  "tickSize": {"condition": {"test": "abs(log(datum.value)/LN10 - round(log(datum.value)/LN10)) < 0.001", "value": -3}, "value": -1.5},
                  "labelPadding": 2, "titlePadding": 2}},
          "detail": {"field": "g"},
          "color": {"field": "la", "type": "nominal",
            "scale": {"domain": ["User 1 - Analytical","User 2 - Analytical","User 3 - Analytical","User 1 - Simulation","User 2 - Simulation","User 3 - Simulation"], "range": ["#505050","#505050","#505050","#3b8ede","#b5268e","#6cc03d"]},
            "legend": null},
          "strokeDash": {"field": "la", "type": "nominal",
            "scale": {"domain": ["User 1 - Analytical","User 2 - Analytical","User 3 - Analytical","User 1 - Simulation","User 2 - Simulation","User 3 - Simulation"], "range": [[1,0],[6,2,1,2],[8,4],[1,0],[1,0],[1,0]]},
            "legend": null}
        }
      },
      {
        "data": {"name": "B"},
        "transform": [{"lookup": "u", "from": {"data": {"name": "labs"}, "key": "u", "fields": ["la", "ls"]}}],
        "mark": {"type": "point", "filled": true, "opacity": 1, "strokeWidth": 0},
        "encoding": {
          "x": {"field": "x", "type": "quantitative", "axis": {"orient": "top", "labels": false, "title": null, "values": [0,5,10,15,20,25,30,35,40], "tickSize": -3}},
          "y": {"field": "s", "type": "quantitative", "axis": {"orient": "right", "labels": false, "title": null,
                  "values": [0.003,0.004,0.005,0.006,0.007,0.008,0.009,0.01,0.02,0.03,0.04,0.05,0.06,0.07,0.08,0.09,0.1,0.2,0.3,0.4,0.5,0.6,0.7,0.8,0.9,1],
                  "tickSize": {"condition": {"test": "abs(log(datum.value)/LN10 - round(log(datum.value)/LN10)) < 0.001", "value": -3}, "value": -1.5}}},
          "color": {"field": "ls", "type": "nominal",
            "scale": {"domain": ["User 1 - Analytical","User 2 - Analytical","User 3 - Analytical","User 1 - Simulation","User 2 - Simulation","User 3 - Simulation"], "range": ["#505050","#505050","#505050","#3b8ede","#b5268e","#6cc03d"]},
            "legend": null},
          "shape": {"field": "ls", "type": "nominal",
            "scale": {"domain": ["User 1 - Analytical","User 2 - Analytical","User 3 - Analytical","User 1 - Simulation","User 2 - Simulation","User 3 - Simulation"], "range": ["M-5,0H5","M-5,0H5","M-5,0H5","circle","square","diamond"]},
            "legend": null},
          "size": {"field": "ls", "type": "nominal",
            "scale": {"domain": ["User 1 - Analytical","User 2 - Analytical","User 3 - Analytical","User 1 - Simulation","User 2 - Simulation","User 3 - Simulation"], "range": [25,25,25,20,8,20]},
            "legend": null}
        }
      },
      {
        "data": {"name": "annBe"},
        "transform": [{"filter": "datum.k == '3'"}],
        "mark": {"type": "point", "shape": "M-1,0A1,0.7,0,1,1,1,0A1,0.7,0,1,1,-1,0Z", "size": 169, "filled": false, "stroke": "#4f7f2c", "strokeWidth": 0.8, "opacity": 1},
        "encoding": {"x": {"field": "x", "type": "quantitative", "axis": null}, "y": {"field": "y", "type": "quantitative", "axis": null}}
      },
      {
        "data": {"name": "annBe"},
        "transform": [{"filter": "datum.k == '2'"}],
        "mark": {"type": "point", "shape": "M-1,0A1,0.67,0,1,1,1,0A1,0.67,0,1,1,-1,0Z", "size": 225, "filled": false, "stroke": "#c13cb8", "strokeWidth": 0.8, "opacity": 1},
        "encoding": {"x": {"field": "x", "type": "quantitative", "axis": null}, "y": {"field": "y", "type": "quantitative", "axis": null}}
      },
      {
        "data": {"name": "annBe"},
        "transform": [{"filter": "datum.k == '1'"}],
        "mark": {"type": "point", "shape": "M-1,0A1,0.7,0,1,1,1,0A1,0.7,0,1,1,-1,0Z", "size": 110, "filled": false, "stroke": "#235ea6", "strokeWidth": 0.8, "opacity": 1},
        "encoding": {"x": {"field": "x", "type": "quantitative", "axis": null}, "y": {"field": "y", "type": "quantitative", "axis": null}}
      },
      {
        "data": {"name": "annBr"},
        "mark": {"type": "rule", "strokeWidth": 0.8},
        "encoding": {"x": {"field": "x", "type": "quantitative", "axis": null}, "y": {"field": "y", "type": "quantitative", "axis": null}, "x2": {"field": "x2"}, "y2": {"field": "y2"},
          "stroke": {"field": "k", "type": "nominal", "scale": {"domain": ["1","2","3"], "range": ["#235ea6","#c13cb8","#4f7f2c"]}, "legend": null}}
      },
      {
        "data": {"name": "annBr"},
        "mark": {"type": "point", "shape": "triangle-up", "size": 14, "filled": true, "opacity": 1},
        "encoding": {"x": {"field": "x2", "type": "quantitative", "axis": null}, "y": {"field": "y2", "type": "quantitative", "axis": null}, "angle": {"field": "ang", "type": "quantitative", "scale": null},
          "fill": {"field": "k", "type": "nominal", "scale": {"domain": ["1","2","3"], "range": ["#235ea6","#c13cb8","#4f7f2c"]}, "legend": null}}
      },
      {
        "data": {"name": "annBt"},
        "mark": {"type": "text", "align": "left", "baseline": "middle", "fontSize": 7.5},
        "encoding": {"x": {"field": "x", "type": "quantitative", "axis": null}, "y": {"field": "y", "type": "quantitative", "axis": null}, "text": {"field": "t"},
          "fill": {"field": "k", "type": "nominal", "scale": {"domain": ["1","2","3"], "range": ["#235ea6","#c13cb8","#4f7f2c"]}, "legend": null}}
      }
    ]
  }
],
"resolve": {"scale": {"x": "independent", "y": "independent", "color": "independent", "shape": "independent", "size": "independent", "strokeDash": "independent", "stroke": "independent", "fill": "independent"}}
}
